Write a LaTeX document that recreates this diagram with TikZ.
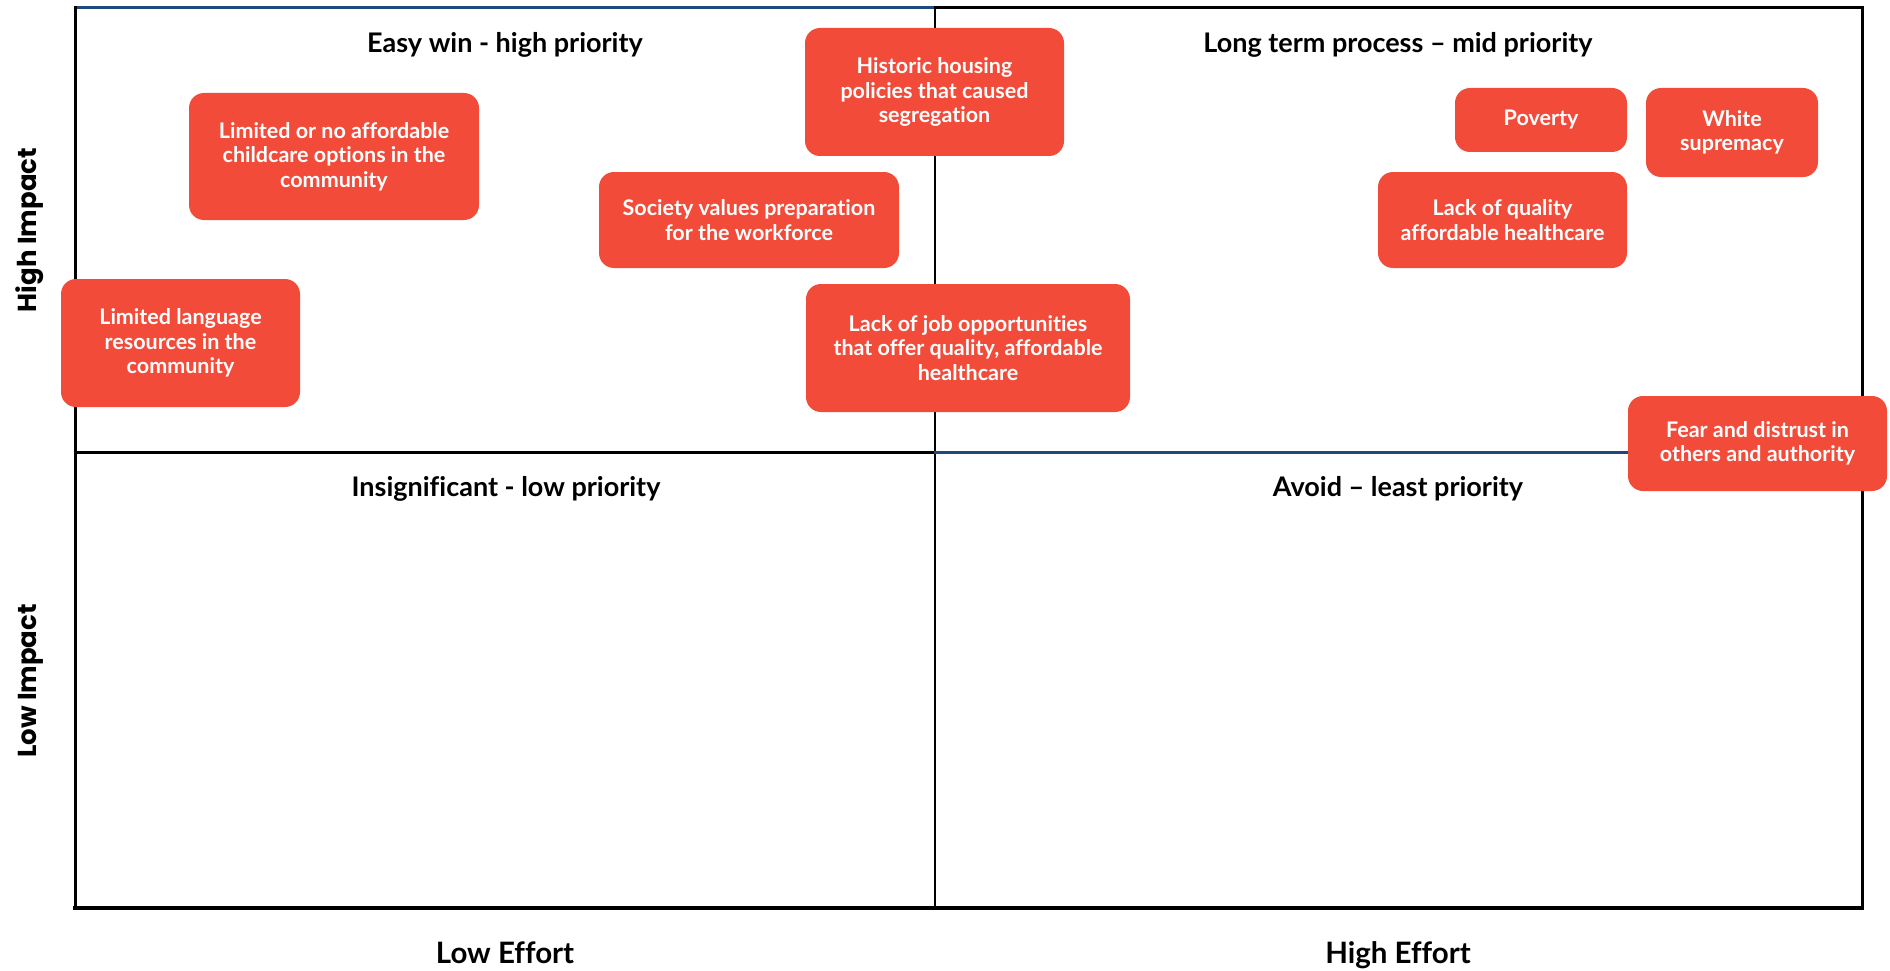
\documentclass[tikz,border=0pt]{standalone}
\usepackage{fontspec}
\setmainfont{Lato}[Ligatures=NoCommon]
\newfontfamily\impactfont{Poppins}
\usepackage{xcolor}
\definecolor{causered}{RGB}{242,75,58}
\definecolor{lineblue}{RGB}{31,73,125}

\tikzset{
  cause/.style={fill=causered, rounded corners=15pt, text=white, align=center,
    inner sep=0pt, font=\fontsize{21.5}{24.5}\selectfont\bfseries},
  quadtitle/.style={anchor=base, font=\fontsize{27}{31}\selectfont\bfseries},
  effortlabel/.style={anchor=base, font=\fontsize{29.5}{34}\selectfont\bfseries},
  impactlabel/.style={anchor=base, rotate=90, font=\impactfont\fontsize{26}{30}\selectfont\bfseries},
  frameline/.style={line width=3pt, line cap=rect},
}

\begin{document}
\begin{tikzpicture}[x=1pt, y=-1pt]
   \useasboundingbox (0,0) rectangle (1890,971);

   % quadrants
   \draw[frameline, lineblue] (75,8) -- (935,8);
   \draw[frameline] (935,8) -- (1862,8);
   \draw[frameline] (75,8) -- (75,908);
   \draw[frameline] (1862,8) -- (1862,908);
   \draw[line width=2.5pt] (935,8) -- (935,908);
   \draw[frameline] (75,452) -- (935,452);
   \draw[frameline, lineblue] (935,452) -- (1862,452);
   \draw[line width=4.5pt, line cap=rect] (75,908) -- (1862,908);

   \node[quadtitle] (easy) at (505,53) {Easy win - high priority};
   \node[quadtitle] (long) at (1398,53) {Long term process – mid priority};
   \node[quadtitle] (insig) at (506,496) {Insignificant - low priority};
   \node[quadtitle] (avoid) at (1398,496) {Avoid – least priority};

   \node[effortlabel] (loweff) at (505,963) {Low Effort};
   \node[effortlabel] (higheff) at (1398,963) {High Effort};
   \node[impactlabel] (highimp) at (36,230) {High Impact};
   \node[impactlabel] (lowimp) at (36,681) {Low Impact};

   % causes
   \node[cause, minimum width=290pt, minimum height=127pt] (childcare) at (334,156.5)
      {Limited or no affordable\\childcare options in the\\community};
   \node[cause, minimum width=259pt, minimum height=128pt] (housing) at (934.5,92)
      {Historic housing\\policies that caused\\segregation};
   \node[cause, minimum width=300pt, minimum height=96pt] (society) at (749,220)
      {Society values preparation\\for the workforce};
   \node[cause, minimum width=239pt, minimum height=128pt] (language) at (180.5,343)
      {Limited language\\resources in the\\community};
   \node[cause, minimum width=324pt, minimum height=128pt] (jobs) at (968,348)
      {Lack of job opportunities\\that offer quality, affordable\\healthcare};
   \node[cause, minimum width=172pt, minimum height=64pt] (poverty) at (1541,120)
      {Poverty};
   \node[cause, minimum width=172pt, minimum height=89pt] (white) at (1732,132.5)
      {White\\supremacy};
   \node[cause, minimum width=249pt, minimum height=96pt] (health) at (1502.5,220)
      {Lack of quality\\affordable healthcare};
   \node[cause, minimum width=259pt, minimum height=95pt] (fear) at (1757.5,443.5)
      {Fear and distrust in\\others and authority};
\end{tikzpicture}
\end{document}
